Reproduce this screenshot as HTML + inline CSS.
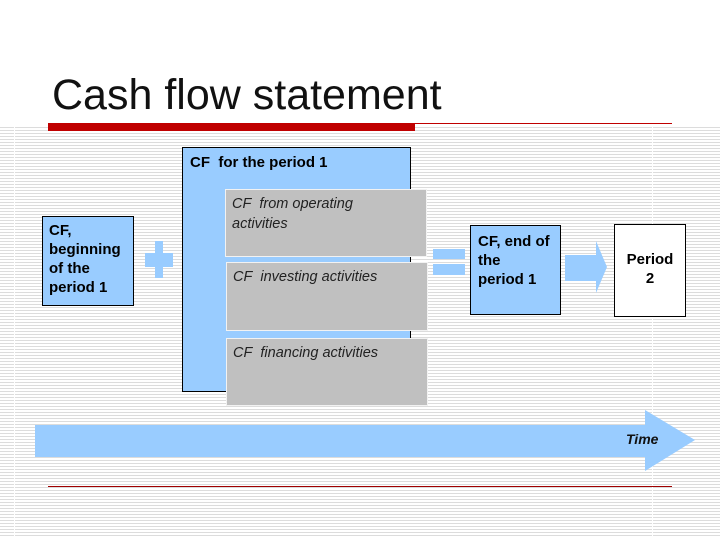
<!DOCTYPE html>
<html><head><style>
body{margin:0;width:720px;height:540px;position:relative;background:#fff;font-family:"Liberation Sans",sans-serif;overflow:hidden}
.abs{position:absolute}
.stripes{left:0;top:127px;width:720px;height:411px;background:repeating-linear-gradient(to bottom,#dcdcdc 0,#dcdcdc 1px,#fff 1px,#fff 3px)}
.box{position:absolute;box-sizing:border-box;border:1px solid #000;font-weight:bold;font-size:15px;line-height:19px;color:#000}
.gray{position:absolute;box-sizing:border-box;background:#c0c0c0;border:1px solid #f2f2f2;font-style:italic;font-size:14.5px;line-height:20px;color:#222;padding:4px 40px 4px 6px}
</style></head><body>
<div class="abs stripes"></div>
<div class="abs" style="left:14px;top:127px;width:1px;height:411px;background:#fff"></div>
<div class="abs" style="left:652px;top:127px;width:1px;height:411px;background:#fff"></div>
<div class="abs" style="left:52px;top:71px;font-size:43px;color:#111;white-space:nowrap">Cash flow statement</div>
<div class="abs" style="left:48px;top:123px;width:367px;height:8px;background:#c00000"></div>
<div class="abs" style="left:415px;top:123px;width:257px;height:1px;background:#c00000"></div>
<div class="abs" style="left:48px;top:486px;width:624px;height:1px;background:#a00000"></div>

<div class="box" style="left:42px;top:216px;width:92px;height:90px;background:#99ccff;padding:4px 6px">CF, beginning of the period 1</div>
<div class="abs" style="left:145px;top:253px;width:28px;height:14px;background:#99ccff"></div>
<div class="abs" style="left:155px;top:241px;width:8px;height:37px;background:#99ccff"></div>

<div class="box" style="left:182px;top:147px;width:229px;height:245px;background:#99ccff;padding:5px 7px">CF&nbsp; for the period 1</div>
<div class="gray" style="left:225px;top:189px;width:202px;height:68px">CF&nbsp; from operating activities</div>
<div class="gray" style="left:226px;top:262px;width:202px;height:69px">CF&nbsp; investing activities</div>
<div class="gray" style="left:226px;top:338px;width:202px;height:68px">CF&nbsp; financing activities</div>

<div class="abs" style="left:433px;top:249px;width:32px;height:10px;background:#99ccff"></div>
<div class="abs" style="left:433px;top:264px;width:32px;height:11px;background:#99ccff"></div>

<div class="box" style="left:470px;top:225px;width:91px;height:90px;background:#99ccff;padding:6px 5px 6px 7px">CF, end of<br>the<br>period 1</div>
<svg class="abs" style="left:0;top:0" width="720" height="540">
<polygon points="565,255 596,255 596,241 607,267 596,293 596,281 565,281" fill="#99ccff"/>
<polygon points="35,425 645,425 645,410 695,440 645,471 645,457 35,457" fill="#99ccff"/>
</svg>
<div class="box" style="left:614px;top:224px;width:72px;height:93px;background:#fff;text-align:center;padding-top:25px">Period<br>2</div>
<div class="abs" style="left:626px;top:431px;font-style:italic;font-weight:bold;font-size:14px;color:#111">Time</div>
</body></html>
